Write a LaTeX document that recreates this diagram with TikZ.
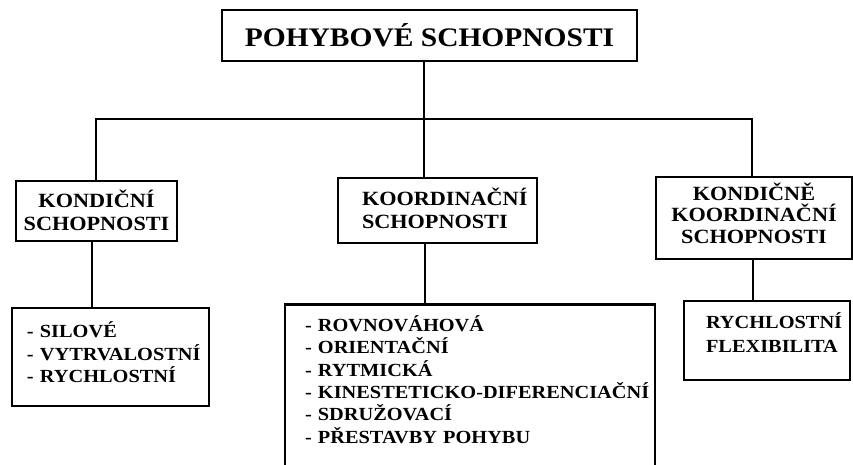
\documentclass[tikz,border=0pt]{standalone}
\usepackage{fontspec}
\setmainfont{Liberation Serif}[FakeStretch=1.1]
\newcommand\fTitle{\bfseries\fontsize{26.8}{30}\selectfont}
\newcommand\fTwo{\bfseries\fontsize{20.2}{23}\selectfont}
\newcommand\fTwoB{\bfseries\fontsize{20.2}{21.5}\selectfont}
\newcommand\fList{\bfseries\fontsize{18.5}{22.4}\selectfont}
\newcommand\fListB{\bfseries\fontsize{18.5}{24}\selectfont}
\newcommand\htr[1]{\rule{0pt}{#1}}
\newcommand\dpr[1]{\rule[-#1]{0pt}{0pt}}
\begin{document}
\begin{tikzpicture}[x=1pt,y=-1pt,
  box/.style={draw=black, line width=2.7pt, fill=white, inner sep=0pt},
  conn/.style={draw=black, line width=2.7pt, line join=miter}]
\useasboundingbox (0,0) rectangle (853,465);
\fill[white] (0,0) rectangle (853,465);
% level 0
\node[box, minimum width=415pt, minimum height=51pt, font=\fTitle] (top) at (429.5,35.5) {\htr{26pt}POHYBOVÉ SCHOPNOSTI\dpr{3pt}};
% level 1
\node[box, minimum width=161pt, minimum height=60pt, align=center, font=\fTwo] (kond) at (96.5,211) {\htr{20pt}KONDIČNÍ\\SCHOPNOSTI\dpr{5pt}};
\node[box, minimum width=199pt, minimum height=65pt, text width=151pt, align=left, font=\fTwo] (koord) at (437.5,210.5) {\htr{20pt}\mbox{KOORDINAČNÍ}\\SCHOPNOSTI\dpr{8pt}};
\node[box, minimum width=196pt, minimum height=82pt, align=center, font=\fTwoB] (kk) at (754,218) {\htr{20pt}KONDIČNĚ\\KOORDINAČNÍ\\SCHOPNOSTI\dpr{13pt}};
% level 2
\node[box, minimum width=197pt, minimum height=98pt, text width=167pt, align=left, font=\fList] (l1) at (110.5,357) {\htr{20pt}\mbox{- SILOVÉ}\\\mbox{- VYTRVALOSTNÍ}\\\mbox{- RYCHLOSTNÍ}\dpr{14pt}};
\node[box, anchor=north, minimum width=370pt, text width=330pt, inner ysep=7pt, align=left, font=\fList] (l2) at (470,303) {\htr{20pt}\mbox{- ROVNOVÁHOVÁ}\\\mbox{- ORIENTAČNÍ}\\\mbox{- RYTMICKÁ}\\\mbox{- KINESTETICKO-DIFERENCIAČNÍ}\\\mbox{- SDRUŽOVACÍ}\\\mbox{- PŘESTAVBY POHYBU}\dpr{60pt}};
\node[box, minimum width=166pt, minimum height=79pt, text width=122pt, align=left, font=\fListB] (l3) at (767,340.5) {\htr{20pt}\mbox{RYCHLOSTNÍ}\\\mbox{FLEXIBILITA}\dpr{21pt}};
% connectors
\coordinate (j1) at (96,119);
\coordinate (j2) at (424,119);
\coordinate (j3) at (752,119);
\coordinate (v1) at (92,0);
\coordinate (v2) at (425,0);
\coordinate (v3) at (753,0);
\draw[conn] (j2 |- top.south) -- (j2);
\draw[conn] (j1 |- kond.north) -- (j1) -- (j3) -- (j3 |- kk.north);
\draw[conn] (j2) -- (j2 |- koord.north);
\draw[conn] (v1 |- kond.south) -- (v1 |- l1.north);
\draw[conn] (v2 |- koord.south) -- (v2 |- l2.north);
\draw[conn] (v3 |- kk.south) -- (v3 |- l3.north);
\end{tikzpicture}
\end{document}
